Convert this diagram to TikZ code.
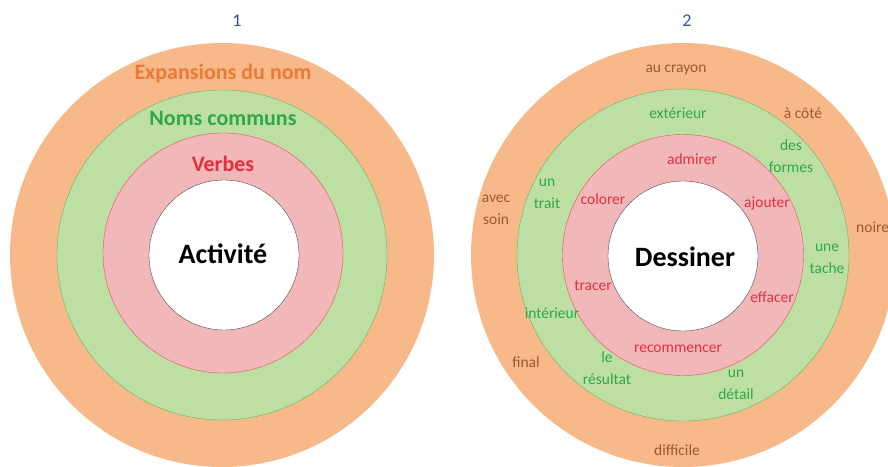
\documentclass[tikz,border=0pt]{standalone}
\usepackage{fontspec}
\setmainfont{Carlito}
\definecolor{peach}{HTML}{F7B88A}
\definecolor{leaf}{HTML}{BEDFA4}
\definecolor{rose}{HTML}{F2B7B8}
\definecolor{leafline}{HTML}{5DB85A}
\definecolor{roseline}{HTML}{E0555C}
\definecolor{brownt}{HTML}{9A5A2E}
\definecolor{greent}{HTML}{2FA845}
\definecolor{redt}{HTML}{E2303F}
\definecolor{oranget}{HTML}{EC7A34}
\definecolor{bluet}{HTML}{2F5597}
\tikzset{
  ring/.style={circle,inner sep=0pt},
  lbl/.style={font=\fontsize{15.5}{17}\selectfont,align=center,inner sep=0pt},
  big/.style={font=\fontsize{22}{26}\selectfont\bfseries,inner sep=0pt},
  core/.style={font=\fontsize{28}{32}\selectfont\bfseries,inner sep=0pt}
}
\begin{document}
\begin{tikzpicture}[x=1pt,y=-1pt]
   \useasboundingbox (0,0) rectangle (888,466);
   \clip (0,0) rectangle (888,466);
   \node[ring,fill=peach,minimum size=424pt] (oa) at (222,255) {};
   \node[ring,fill=leaf,draw=leafline,minimum size=330pt] (ga) at (222,255) {};
   \node[ring,fill=rose,draw=roseline,minimum size=240pt] (pa) at (223,253) {};
   \node[ring,fill=white,draw=black!70,minimum size=150pt] (wa) at (224,255) {};
   \node[ring,fill=peach,minimum size=424pt] (ob) at (683,255) {};
   \node[ring,fill=leaf,draw=leafline,minimum size=332pt] (gb) at (683,255) {};
   \node[ring,fill=rose,draw=roseline,minimum size=241pt] (pb) at (683,255) {};
   \node[ring,fill=white,draw=black!70,minimum size=150pt] (wb) at (683,256) {};

   \node[font=\fontsize{18}{20}\selectfont,text=bluet] (n1) at (237,21) {1};
   \node[font=\fontsize{18}{20}\selectfont,text=bluet] (n2) at (687,21) {2};

   \node[big,text=oranget] (exp) at (223,74) {Expansions du nom};
   \node[big,text=greent] (noms) at (223,118) {Noms communs};
   \node[big,text=redt] (verb) at (223,164) {Verbes};
   \node[core] (act) at (223,254) {Activité};

   \node[core] (des) at (685,257) {Dessiner};

   \node[lbl,text=brownt] (cray) at (676,70) {au crayon};
   \node[lbl,text=brownt] (cote) at (803,113) {à côté};
   \node[lbl,text=brownt] (soin) at (496,210) {avec\\[5pt]soin};
   \node[lbl,text=brownt,anchor=west] (noir) at (856,227) {noire};
   \node[lbl,text=brownt] (fin) at (526,362) {final};
   \node[lbl,text=brownt] (diff) at (677,450) {difficile};

   \node[lbl,text=greent] (ext) at (678,113) {extérieur};
   \node[lbl,text=greent] (form) at (791,156) {des\\[5pt]formes};
   \node[lbl,text=greent] (trait) at (547,194) {un\\[5pt]trait};
   \node[lbl,text=greent] (tache) at (827,259) {une\\[5pt]tache};
   \node[lbl,text=greent] (int) at (552,313) {intérieur};
   \node[lbl,text=greent] (res) at (607,368) {le\\[5pt]résultat};
   \node[lbl,text=greent] (det) at (736,385) {un\\[5pt]détail};

   \node[lbl,text=redt] (adm) at (692,159) {admirer};
   \node[lbl,text=redt] (col) at (603,199) {colorer};
   \node[lbl,text=redt] (ajo) at (767,203) {ajouter};
   \node[lbl,text=redt] (tra) at (593,286) {tracer};
   \node[lbl,text=redt] (eff) at (772,297) {effacer};
   \node[lbl,text=redt] (rec) at (678,349) {recommencer};
\end{tikzpicture}
\end{document}
